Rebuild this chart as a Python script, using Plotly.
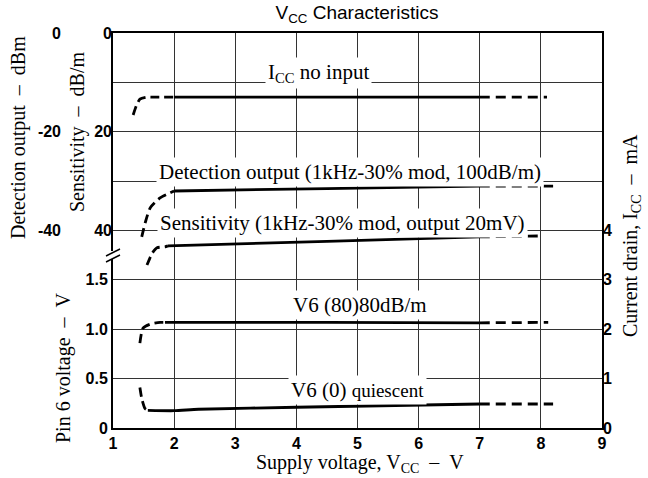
import plotly.graph_objects as go

# ---------------- data ----------------
vcc_ticks = [1, 2, 3, 4, 5, 6, 7, 8, 9]
v_ticks = [0, 0.5, 1.0, 1.5]
v_tick_text = ["0", "0.5", "1.0", "1.5"]
v_grid_step = 0.5
sens_ticks = [0, 20, 40]
det_ticks = [0, -20, -40]
det_tick_text = ["0", "-20", "-40"]
ma_ticks = [0, 1, 2, 3, 4]

# Icc no input (mA, right axis)
icc_vcc = [1.33, 1.38, 1.44, 1.54, 1.64, 2.0, 4.5, 7.0, 8.1]
icc_ma = [6.34, 6.52, 6.66, 6.70, 6.70, 6.70, 6.70, 6.70, 6.70]
icc_solid = (2.0, 7.0)

# Detection output (dBm)
det_vcc = [1.47, 1.53, 1.61, 1.77, 1.93, 2.0, 4.5, 7.0, 8.2]
det_dbm = [-41.3, -38.3, -35.4, -33.4, -32.4, -32.0, -31.5, -31.0, -31.0]
det_solid = (2.0, 7.0)

# Sensitivity (dB/m)
sens_vcc = [1.556, 1.60, 1.64, 1.72, 1.85, 1.90, 4.5, 7.0, 8.0]
sens_db = [47.0, 45.7, 44.6, 43.5, 43.3, 43.1, 42.2, 41.3, 41.1]
sens_solid = (1.90, 7.0)

# V6 (80) 80 dB/m (V)
v80_vcc = [1.44, 1.49, 1.60, 1.77, 1.85, 4.5, 7.0, 8.12]
v80_v = [0.86, 1.01, 1.05, 1.07, 1.07, 1.07, 1.065, 1.07]
v80_solid = (1.85, 7.0)

# V6 (0) quiescent (V)
v0_vcc = [1.44, 1.47, 1.52, 1.57, 2.0, 2.4, 4.0, 7.0, 8.2]
v0_v = [0.41, 0.30, 0.20, 0.178, 0.175, 0.19, 0.21, 0.243, 0.243]
v0_solid = (1.57, 7.0)

# ---------------- figure ----------------
W, H = 648, 478
L, R, T, B = 113, 46, 33, 50
PW, PH = W - L - R, H - T - B


def px(x):
    return (x - L) / PW


def py(y):
    return (H - B - y) / PH


SERIF = "Liberation Serif, Times New Roman, serif"
SANS = "Liberation Sans, Arial, sans-serif"
TICKFONT = dict(family="Liberation Sans, Arial", size=16, color="black", weight="bold")
GRID = "#333333"

fig = go.Figure()


def add_curve(xs, ys, solid, axis):
    s0, s1 = solid
    pts = list(zip(xs, ys))
    segs = [
        ([p for p in pts if p[0] <= s0], "9px,5px", "spline"),
        ([p for p in pts if s0 <= p[0] <= s1], "solid", "spline"),
        ([p for p in pts if p[0] >= s1], "10px,6px", "linear"),
    ]
    for seg, dash, shape in segs:
        if len(seg) < 2:
            continue
        fig.add_trace(go.Scatter(
            x=[p[0] for p in seg], y=[p[1] for p in seg], mode="lines",
            yaxis=axis, showlegend=False, hoverinfo="skip",
            line=dict(color="black", width=2.8, dash=dash, shape=shape, smoothing=0.6),
        ))


add_curve(icc_vcc, icc_ma, icc_solid, "y4")
add_curve(det_vcc, det_dbm, det_solid, "y3")
add_curve(sens_vcc, sens_db, sens_solid, "y2")
add_curve(v80_vcc, v80_v, v80_solid, "y")
add_curve(v0_vcc, v0_v, v0_solid, "y")

axis_common = dict(zeroline=False, ticks="", tickfont=TICKFONT)

fig.update_layout(
    width=W, height=H,
    margin=dict(l=L, r=R, t=T, b=B, autoexpand=False),
    paper_bgcolor="white", plot_bgcolor="white",
    template="none",
    showlegend=False,
    title=dict(text="V<sub>CC</sub> Characteristics", x=px(357), xref="paper",
               xanchor="center", y=1 - 12 / H, yref="container", yanchor="middle",
               font=dict(family=SANS, size=19, color="black")),
    xaxis=dict(range=[1, 9], tickvals=vcc_ticks, showgrid=True, gridcolor=GRID,
               gridwidth=1, showline=True, linecolor="black", linewidth=2,
               mirror=True, **axis_common),
    yaxis=dict(range=[0, 4], tickvals=v_ticks, ticktext=v_tick_text, showgrid=True,
               gridcolor=GRID, gridwidth=1, showline=True, linecolor="black",
               linewidth=2, mirror=True,
               minor=dict(dtick=v_grid_step, tick0=0, showgrid=True, gridcolor=GRID,
                          gridwidth=1, ticks=""),
               **axis_common),
    yaxis2=dict(range=[80, 0], tickvals=sens_ticks, overlaying="y", side="left",
                anchor="x", showgrid=False, showline=False, **axis_common),
    yaxis3=dict(range=[-80, 0], tickvals=det_ticks, ticktext=det_tick_text,
                overlaying="y", side="left", anchor="x", showgrid=False,
                showline=False, ticklabelstandoff=51, **axis_common),
    yaxis4=dict(range=[0, 8], tickvals=ma_ticks, overlaying="y", side="right",
                anchor="x", showgrid=False, showline=False, **axis_common),
)

LBL = dict(family=SERIF, size=21, color="black")
labels = [
    ("I<sub>CC</sub> no input", 318, 73),
    ("Detection output (1kHz-30% mod, 100dB/m)", 350, 172),
    ("Sensitivity (1kHz-30% mod, output 20mV)", 342, 223),
    ("V6 (80)80dB/m", 360, 305),
    ("V6 (0) <span style='font-size:19px'>quiescent</span>", 357, 390),
]
for text, x, y in labels:
    fig.add_annotation(text=text, x=px(x), y=py(y), xref="paper", yref="paper",
                       showarrow=False, font=LBL, bgcolor="white", borderpad=2,
                       xanchor="center", yanchor="middle")

TFONT = dict(family=SERIF, size=20, color="black")
NB = "\u2002\u2013\u2002"
titles = [
    ("Detection output" + NB + "dBm", 18, 138, -90),
    ("Sensitivity" + NB + "dB/m", 77, 132, -90),
    ("Pin 6 voltage" + NB + "V", 63, 368, -90),
    ("Current drain, I<sub>CC</sub>" + NB + "mA", 631, 236, -90),
    ("Supply voltage, V<sub>CC</sub>" + NB + "V", 360, 463, 0),
]
for text, x, y, ang in titles:
    fig.add_annotation(text=text, x=px(x), y=py(y), xref="paper", yref="paper",
                       showarrow=False, font=TFONT, textangle=ang,
                       xanchor="center", yanchor="middle")

# axis break on the left axis
fig.add_shape(type="rect", xref="paper", yref="paper", x0=px(109), x1=px(117),
              y0=py(259), y1=py(251), fillcolor="white", line=dict(width=0),
              layer="above")
for dy in (0, 6):
    fig.add_shape(type="line", xref="paper", yref="paper",
                  x0=px(106), y0=py(262 - dy), x1=px(120), y1=py(255 - dy),
                  line=dict(color="black", width=1.5), layer="above")

fig.write_html("out.html", config={"displayModeBar": False},
               post_script="document.body.style.margin='0px';")
